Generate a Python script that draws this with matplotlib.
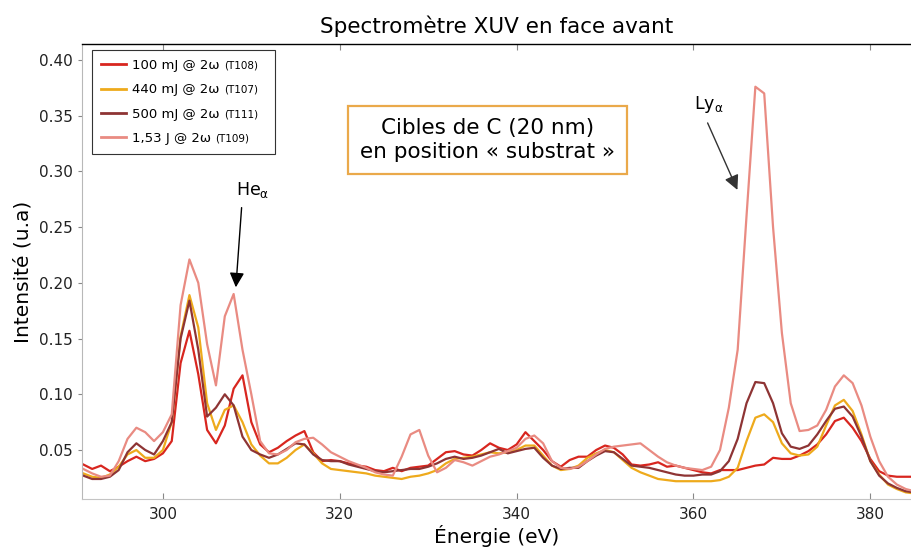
import numpy as np
import matplotlib
matplotlib.use('Agg')
from matplotlib import pyplot as plt

# energy grid (eV)
energie = np.arange(291, 386)

# 100 mJ @ 2w (T108)
i_100mj = [0.037, 0.033, 0.036, 0.031, 0.035, 0.040, 0.044, 0.040, 0.042, 0.047,
           0.058, 0.128, 0.157, 0.118, 0.068, 0.056, 0.072, 0.105, 0.117, 0.075,
           0.055, 0.048, 0.052, 0.058, 0.063, 0.067, 0.048, 0.040, 0.041, 0.040,
           0.038, 0.036, 0.035, 0.032, 0.031, 0.034, 0.031, 0.034, 0.035, 0.036,
           0.042, 0.048, 0.049, 0.046, 0.045, 0.050, 0.056, 0.052, 0.050, 0.055,
           0.066, 0.058, 0.050, 0.040, 0.035, 0.041, 0.044, 0.044, 0.050, 0.054,
           0.052, 0.046, 0.037, 0.036, 0.037, 0.039, 0.035, 0.036, 0.034, 0.032,
           0.030, 0.029, 0.032, 0.032, 0.032, 0.034, 0.036, 0.037, 0.043, 0.042,
           0.042, 0.045, 0.049, 0.055, 0.064, 0.076, 0.079, 0.070, 0.058, 0.042,
           0.031, 0.027, 0.026, 0.026, 0.026]

# 440 mJ @ 2w (T107)
i_440mj = [0.029, 0.026, 0.025, 0.028, 0.035, 0.046, 0.050, 0.043, 0.043, 0.050,
           0.075, 0.152, 0.189, 0.160, 0.092, 0.068, 0.086, 0.090, 0.075, 0.055,
           0.045, 0.038, 0.038, 0.043, 0.050, 0.055, 0.047, 0.038, 0.033, 0.032,
           0.031, 0.030, 0.029, 0.027, 0.026, 0.025, 0.024, 0.026, 0.027, 0.029,
           0.032, 0.038, 0.042, 0.043, 0.044, 0.046, 0.048, 0.047, 0.048, 0.050,
           0.054, 0.054, 0.045, 0.036, 0.032, 0.033, 0.036, 0.043, 0.047, 0.050,
           0.048, 0.041, 0.034, 0.030, 0.027, 0.024, 0.023, 0.022, 0.022, 0.022,
           0.022, 0.022, 0.023, 0.026, 0.034, 0.058, 0.079, 0.082, 0.075, 0.056,
           0.047, 0.045, 0.046, 0.053, 0.072, 0.090, 0.095, 0.085, 0.064, 0.040,
           0.028, 0.019, 0.015, 0.012, 0.011]

# 500 mJ @ 2w (T111)
i_500mj = [0.027, 0.024, 0.024, 0.026, 0.032, 0.048, 0.056, 0.050, 0.046, 0.058,
           0.075, 0.150, 0.184, 0.140, 0.080, 0.088, 0.100, 0.090, 0.062, 0.050,
           0.046, 0.043, 0.046, 0.051, 0.056, 0.055, 0.046, 0.041, 0.040, 0.040,
           0.037, 0.035, 0.033, 0.031, 0.030, 0.031, 0.032, 0.033, 0.033, 0.035,
           0.038, 0.042, 0.044, 0.042, 0.043, 0.045, 0.048, 0.051, 0.047, 0.049,
           0.051, 0.052, 0.043, 0.036, 0.033, 0.034, 0.034, 0.040, 0.045, 0.049,
           0.048, 0.042, 0.036, 0.035, 0.034, 0.032, 0.030, 0.028, 0.027, 0.027,
           0.028, 0.028, 0.031, 0.040, 0.060, 0.092, 0.111, 0.110, 0.092, 0.065,
           0.053, 0.051, 0.054, 0.064, 0.076, 0.087, 0.089, 0.080, 0.062, 0.040,
           0.027, 0.020, 0.016, 0.013, 0.012]

# 1,53 J @ 2w (T109)
i_153j = [0.033, 0.029, 0.026, 0.027, 0.040, 0.060, 0.070, 0.066, 0.058, 0.066,
          0.082, 0.180, 0.221, 0.200, 0.145, 0.108, 0.170, 0.190, 0.140, 0.100,
          0.058, 0.047, 0.046, 0.050, 0.057, 0.060, 0.061, 0.055, 0.048, 0.044,
          0.040, 0.037, 0.034, 0.030, 0.028, 0.027, 0.044, 0.064, 0.068, 0.045,
          0.030, 0.034, 0.041, 0.039, 0.036, 0.040, 0.044, 0.046, 0.049, 0.052,
          0.060, 0.063, 0.056, 0.040, 0.034, 0.033, 0.035, 0.040, 0.046, 0.051,
          0.053, 0.054, 0.055, 0.056, 0.050, 0.044, 0.039, 0.036, 0.034, 0.033,
          0.032, 0.035, 0.050, 0.088, 0.140, 0.260, 0.376, 0.370, 0.250, 0.155,
          0.092, 0.067, 0.068, 0.072, 0.086, 0.107, 0.117, 0.110, 0.090, 0.062,
          0.040, 0.026, 0.019, 0.015, 0.013]

series = [i_100mj, i_440mj, i_500mj, i_153j]
labels = ['100 mJ @ 2ω', '440 mJ @ 2ω', '500 mJ @ 2ω', '1,53 J @ 2ω']
tirs = ['(T108)', '(T107)', '(T111)', '(T109)']
colors = ['#d8261f', '#eeaa1c', '#8e3434', '#e98b82']

fig = plt.figure(figsize=(9.11, 5.49), dpi=100)
ax = fig.add_axes([0.090, 0.091, 0.910, 0.829])

for y, lab, c in zip(series, labels, colors):
    ax.plot(energie, y, color=c, lw=1.6, label=lab)

ax.set_xlim(290.85, 384.6)
ax.set_ylim(0.006, 0.4144)
ax.set_xticks([300, 320, 340, 360, 380])
ax.set_yticks([0.05, 0.10, 0.15, 0.20, 0.25, 0.30, 0.35, 0.40])
ax.yaxis.set_major_formatter(matplotlib.ticker.FormatStrFormatter('%.2f'))

# spines / ticks
ax.spines['right'].set_visible(False)
ax.spines['top'].set_color('black')
ax.spines['top'].set_linewidth(1.0)
ax.spines['left'].set_color('#b8b8b8')
ax.spines['bottom'].set_color('#c4c4c4')
ax.tick_params(axis='x', direction='in', top=True, length=4, color='#888888',
               labelsize=11, labelcolor='#222222', pad=6)
ax.tick_params(axis='y', direction='out', length=3, color='#888888',
               labelsize=11, labelcolor='#222222')

ax.set_title('Spectromètre XUV en face avant', fontsize=15.5, pad=8)
ax.set_xlabel('Énergie (eV)', fontsize=14.5, labelpad=2)
ax.set_ylabel('Intensité (u.a)', fontsize=14.5, labelpad=5)

# legend with small shot numbers
leg = ax.legend(loc='upper left', bbox_to_anchor=(0.012, 0.756, 0.221, 0.231),
                mode='expand', borderaxespad=0, fontsize=9.5, frameon=True,
                fancybox=False, edgecolor='#333333', framealpha=1,
                handlelength=1.9, handletextpad=0.45, labelspacing=0.85,
                borderpad=0.7)
leg.get_frame().set_linewidth(0.8)
for line in leg.get_lines():
    line.set_linewidth(2)
fig.canvas.draw()
for txt, t in zip(leg.get_texts(), tirs):
    ax.annotate(t, xy=(1, 0.5), xycoords=txt, xytext=(3, 0),
                textcoords='offset points', va='center', ha='left',
                fontsize=7.5, zorder=6, annotation_clip=False)

# boxed note
ax.text(336.7, 0.328, 'Cibles de C (20 nm)\nen position « substrat »',
        ha='center', va='center', fontsize=15.5, linespacing=1.25,
        bbox=dict(boxstyle='square,pad=0.55', fc='white', ec='#eaa94a', lw=1.6))

# line annotations
ax.text(310.2, 0.283, 'He$_{\\mathregular{α}}$', fontsize=12.5, ha='center', va='center')
ax.annotate('', xy=(308.25, 0.196), xytext=(308.9, 0.2675),
            arrowprops=dict(arrowstyle='-|>', color='black', lw=1.0, mutation_scale=22,
                            shrinkA=0, shrinkB=0))
ax.text(361.7, 0.360, 'Ly$_{\\mathregular{α}}$', fontsize=12.5, ha='center', va='center')
ax.annotate('', xy=(364.97, 0.2834), xytext=(361.6, 0.3435),
            arrowprops=dict(arrowstyle='-|>', color='#333333', lw=1.0, mutation_scale=22,
                            shrinkA=0, shrinkB=0))

fig.savefig('out.png', dpi=100)
